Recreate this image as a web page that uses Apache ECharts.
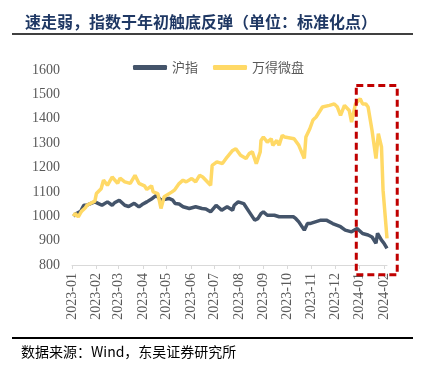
<!DOCTYPE html>
<html>
<head>
<meta charset="utf-8">
<script src="https://cdn.jsdelivr.net/npm/echarts@6/dist/echarts.min.js"></script>
<style>
  html, body { margin: 0; padding: 0; background: #fff; }
  #main { width: 422px; height: 368px; }
</style>
</head>
<body>
<div id="main"></div>
<script>
// 沪指（标准化，2023-01-03 = 1000）
var shDates = ['2023-01-03','2023-01-06','2023-01-09','2023-01-12','2023-01-16','2023-01-19','2023-01-30','2023-02-03','2023-02-08','2023-02-15','2023-02-21','2023-02-24','2023-03-02','2023-03-09','2023-03-14','2023-03-21','2023-03-27','2023-03-31','2023-04-06','2023-04-13','2023-04-18','2023-04-24','2023-05-04','2023-05-09','2023-05-12','2023-05-17','2023-05-22','2023-05-30','2023-06-07','2023-06-15','2023-06-20','2023-06-26','2023-07-03','2023-07-10','2023-07-17','2023-07-24','2023-07-26','2023-07-31','2023-08-07','2023-08-14','2023-08-21','2023-08-25','2023-08-29','2023-09-01','2023-09-06','2023-09-15','2023-09-21','2023-10-09','2023-10-12','2023-10-16','2023-10-23','2023-10-27','2023-10-30','2023-11-06','2023-11-13','2023-11-20','2023-11-28','2023-12-08','2023-12-14','2023-12-22','2023-12-29','2024-01-05','2024-01-12','2024-01-17','2024-01-22','2024-01-24','2024-01-29','2024-02-01','2024-02-05'];
var shValues = [1000,1010,1015,1020,1045,1045,1059,1053,1045,1059,1045,1055,1066,1045,1040,1053,1038,1048,1059,1073,1086,1066,1073,1066,1052,1050,1039,1032,1039,1032,1030,1018,1045,1025,1039,1025,1045,1059,1052,1018,984,990,1011,1018,1004,1004,998,998,991,977,943,970,970,977,984,984,970,957,943,936,950,929,923,915,889,930,902,890,868];

// 万得微盘（标准化）
var wdDates = ['2023-01-03','2023-01-05','2023-01-09','2023-01-13','2023-01-18','2023-01-20','2023-01-30','2023-02-01','2023-02-07','2023-02-10','2023-02-15','2023-02-21','2023-02-28','2023-03-03','2023-03-09','2023-03-16','2023-03-22','2023-03-27','2023-04-03','2023-04-06','2023-04-12','2023-04-14','2023-04-20','2023-04-24','2023-04-28','2023-05-08','2023-05-11','2023-05-17','2023-05-22','2023-05-26','2023-06-02','2023-06-07','2023-06-12','2023-06-16','2023-06-26','2023-06-28','2023-07-04','2023-07-11','2023-07-17','2023-07-24','2023-07-28','2023-08-03','2023-08-10','2023-08-14','2023-08-18','2023-08-23','2023-08-28','2023-08-29','2023-09-01','2023-09-06','2023-09-11','2023-09-13','2023-09-18','2023-09-21','2023-09-25','2023-09-28','2023-10-10','2023-10-16','2023-10-23','2023-10-25','2023-10-30','2023-11-03','2023-11-07','2023-11-15','2023-11-24','2023-11-30','2023-12-04','2023-12-08','2023-12-13','2023-12-19','2023-12-22','2023-12-27','2024-01-02','2024-01-05','2024-01-09','2024-01-12','2024-01-17','2024-01-22','2024-01-25','2024-01-29','2024-01-31','2024-02-05'];
var wdValues = [1000,1012,997,1020,1035,1045,1062,1093,1113,1148,1127,1161,1135,1156,1141,1135,1168,1135,1125,1110,1125,1100,1093,1032,1080,1100,1107,1134,1148,1141,1155,1141,1168,1161,1127,1209,1223,1216,1243,1270,1277,1250,1237,1257,1264,1216,1264,1311,1325,1304,1318,1291,1311,1291,1332,1325,1318,1291,1237,1325,1359,1395,1407,1448,1455,1461,1448,1414,1455,1434,1386,1461,1482,1461,1461,1448,1352,1237,1339,1284,1107,909];

// 月份刻度
var monthTicks = ['2023-01','2023-02','2023-03','2023-04','2023-05','2023-06','2023-07','2023-08','2023-09','2023-10','2023-11','2023-12','2024-01','2024-02'];

// 横轴范围与红色虚线框（数据坐标）
var xStart = '2023-01-01';
var xEnd = '2024-02-05';
var boxFrom = ['2023-12-28', 1536];
var boxTo = ['2024-02-18', 760];

var chart = echarts.init(document.getElementById('main'));

function toTime(s) {
  var p = s.split('-');
  return new Date(+p[0], +p[1] - 1, p[2] ? +p[2] : 1).getTime();
}
function pairs(dates, values) {
  return dates.map(function (d, i) { return [toTime(d), values[i]]; });
}
var tickValues = monthTicks.map(toTime);

var option = {
  animation: false,
  backgroundColor: '#fff',
  title: {
    text: '速走弱，指数于年初触底反弹（单位：标准化点）',
    left: 20,
    top: 9,
    textStyle: {
      fontFamily: 'Noto Sans CJK SC',
      fontSize: 16,
      fontWeight: 'bold',
      color: '#1F3864'
    }
  },
  legend: {
    left: 128,
    top: 56,
    itemWidth: 34,
    itemHeight: 5,
    itemGap: 15,
    icon: 'roundRect',
    textStyle: { fontFamily: 'Noto Sans CJK SC', fontSize: 13, color: '#595959' },
    data: ['沪指', '万得微盘']
  },
  grid: { left: 72, right: 35, top: 70, bottom: 103 },
  xAxis: {
    type: 'value',
    min: toTime(xStart),
    max: toTime(xEnd),
    splitLine: { show: false },
    axisLine: { lineStyle: { color: '#D9D9D9', width: 1 } },
    axisTick: { show: true, length: 4, customValues: tickValues, lineStyle: { color: '#D9D9D9' } },
    axisLabel: {
      customValues: tickValues,
      rotate: 90,
      margin: 8,
      fontFamily: 'Liberation Serif',
      fontSize: 14,
      color: '#595959',
      formatter: function (v) {
        var d = new Date(v);
        var m = d.getMonth() + 1;
        return d.getFullYear() + '-' + (m < 10 ? '0' + m : m);
      }
    }
  },
  yAxis: {
    type: 'value',
    min: 800,
    max: 1600,
    interval: 100,
    splitLine: { show: false },
    axisLine: { show: false },
    axisTick: { show: false },
    axisLabel: {
      margin: 12,
      fontFamily: 'Liberation Serif',
      fontSize: 14,
      color: '#595959',
      formatter: function (v) { return String(v); }
    }
  },
  series: [
    {
      name: '沪指',
      type: 'line',
      showSymbol: false,
      data: pairs(shDates, shValues),
      lineStyle: { color: '#44546A', width: 3.5 },
      itemStyle: { color: '#44546A' }
    },
    {
      name: '万得微盘',
      type: 'line',
      showSymbol: false,
      data: pairs(wdDates, wdValues),
      lineStyle: { color: '#FFD966', width: 3.5 },
      itemStyle: { color: '#FFD966' }
    }
  ]
};

chart.setOption(option);

var p1 = chart.convertToPixel({ gridIndex: 0 }, [toTime(boxFrom[0]), boxFrom[1]]);
var p2 = chart.convertToPixel({ gridIndex: 0 }, [toTime(boxTo[0]), boxTo[1]]);

chart.setOption({
  graphic: [
    { type: 'line', shape: { x1: 12, y1: 34, x2: 413, y2: 34 }, style: { stroke: '#000', lineWidth: 1.5 } },
    { type: 'line', shape: { x1: 12, y1: 338, x2: 413, y2: 338 }, style: { stroke: '#000', lineWidth: 2 } },
    {
      type: 'text', left: 21, top: 345,
      style: { text: '数据来源：Wind，东吴证券研究所', font: '14px "Noto Sans CJK SC"', fill: '#000' }
    },
    {
      type: 'rect',
      shape: { x: p1[0], y: p1[1], width: p2[0] - p1[0], height: p2[1] - p1[1] },
      style: { fill: 'none', stroke: '#C00000', lineWidth: 3, lineDash: [7, 4] },
      z: 10
    }
  ]
});
</script>
</body>
</html>
